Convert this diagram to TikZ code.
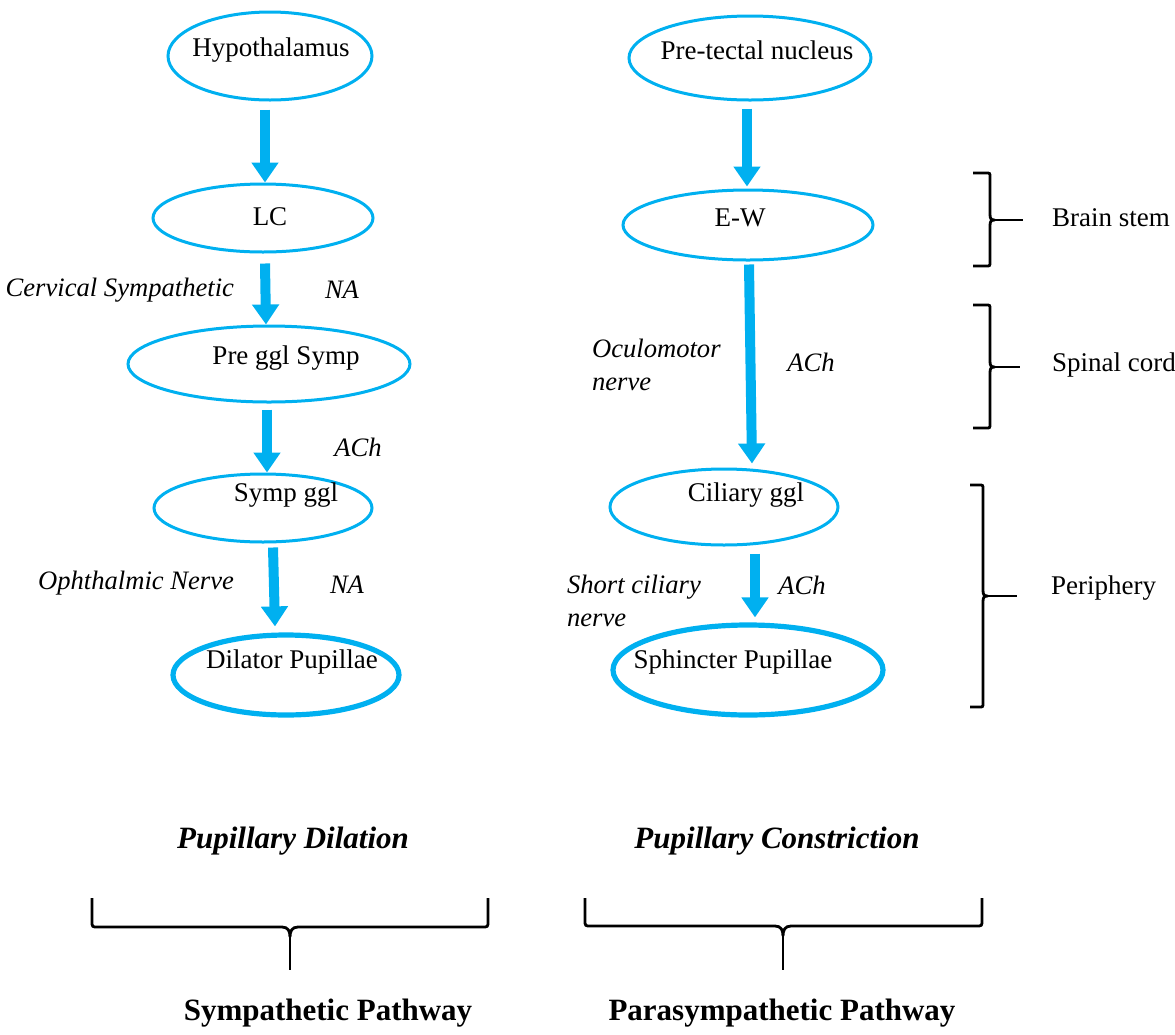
\documentclass[tikz,border=0pt]{standalone}
\usepackage{fontspec}
\setmainfont{Liberation Serif}
\usetikzlibrary{shapes.geometric,arrows.meta}
\definecolor{cy}{HTML}{00B0F0}
\begin{document}
\begin{tikzpicture}[x=0.5pt,y=-0.5pt,
  ell/.style={ellipse,draw=cy,line width=1.5pt,inner sep=0pt},
  ellthick/.style={ell,line width=2.6pt},
  arr/.style={draw=cy,line width=5pt,-{Triangle[width=13pt,length=10pt]}},
  rt/.style={font=\fontsize{13.5}{16}\selectfont},
  it/.style={font=\fontsize{13.3}{16.5}\selectfont\itshape,align=left},
  bt/.style={font=\fontsize{15.5}{18}\selectfont\bfseries},
  bit/.style={font=\fontsize{15.5}{18}\selectfont\bfseries\itshape},
  br/.style={draw=black,line width=1.4pt}]
\useasboundingbox (0,0) rectangle (1175,1035);

% ---- sympathetic column ----
\node[ell,minimum width=102pt,minimum height=44pt,
  label={[rt,xshift=0.5pt,yshift=3pt]center:Hypothalamus}] (hyp) at (270,56) {};
\node[ell,minimum width=110pt,minimum height=34pt,
  label={[rt,xshift=3.5pt,yshift=0.5pt]center:LC}] (lc) at (263,218) {};
\node[ell,minimum width=141pt,minimum height=38pt,
  label={[rt,xshift=8.5pt,yshift=3pt]center:Pre ggl Symp}] (pre) at (269,364) {};
\node[ell,minimum width=109pt,minimum height=34pt,
  label={[rt,xshift=11.5pt,yshift=6.5pt]center:Symp ggl}] (symp) at (263,508) {};
\node[ellthick,minimum width=113pt,minimum height=40pt,
  label={[rt,xshift=3pt,yshift=6.5pt]center:Dilator Pupillae}] (dil) at (286,675) {};

% ---- parasympathetic column ----
\node[ell,minimum width=121pt,minimum height=42pt,
  label={[rt,xshift=3.5pt,yshift=4pt]center:Pre-tectal nucleus}] (ptn) at (750,58) {};
\node[ell,minimum width=125pt,minimum height=35pt,
  label={[rt,xshift=-4pt,yshift=3.5pt]center:E-W}] (ew) at (748,225) {};
\node[ell,minimum width=114pt,minimum height=38pt,
  label={[rt,xshift=11pt,yshift=6pt]center:Ciliary ggl}] (cil) at (724,507) {};
\node[ellthick,minimum width=135pt,minimum height=45pt,
  label={[rt,xshift=-7.5pt,yshift=4pt]center:Sphincter Pupillae}] (sph) at (748,670) {};

% ---- arrows ----
\draw[arr] ([xshift=-2.5pt,yshift=-4pt]hyp.south) -- ([xshift=1pt]lc.north);
\draw[arr] ([xshift=1pt,yshift=-5pt]lc.south) -- ([xshift=-1.5pt]pre.north);
\draw[arr] ([xshift=-1pt,yshift=-3pt]pre.south) -- ([xshift=2pt]symp.north);
\draw[arr] ([xshift=5pt,yshift=-2pt]symp.south) -- ([xshift=-5.5pt,yshift=3pt]dil.north);
\draw[arr] ([xshift=-1.5pt,yshift=-3.5pt]ptn.south) -- ([xshift=-0.5pt,yshift=1pt]ew.north);
\draw[arr] ([xshift=0.5pt,yshift=-1.5pt]ew.south) -- ([xshift=14pt,yshift=2pt]cil.north);
\draw[arr] ([xshift=15.5pt,yshift=-3.5pt]cil.south) -- ([xshift=3.5pt,yshift=2.5pt]sph.north);

% ---- arrow labels ----
\node[it,anchor=east] (l1) at (241,290) {Cervical Sympathetic};
\node[it] (l2) at (342,290) {NA};
\node[it] (l3) at (358,447) {ACh};
\node[it,anchor=east] (l4) at (241,583) {Ophthalmic Nerve};
\node[it] (l5) at (347,585) {NA};
\node[it,anchor=west] (l6) at (585,365) {Oculomotor\\nerve};
\node[it] (l7) at (811,362) {ACh};
\node[it,anchor=west] (l8) at (560,601) {Short ciliary\\nerve};
\node[it] (l9) at (802,585) {ACh};

% ---- right brackets ----
\draw[br] (973,173) -- (986,173) .. controls (990,173) .. (990,177) -- (990,214)
  .. controls (990,219) and (991,220) .. (995,220)
  .. controls (991,220) and (990,221) .. (990,226) -- (990,262)
  .. controls (990,266) .. (986,266) -- (973,266);
\draw[br] (995,220) -- (1023,220);
\node[rt,anchor=west] (bs) at (1045,218) {Brain stem};

\draw[br] (973,305) -- (986,305) .. controls (990,305) .. (990,309) -- (990,361)
  .. controls (990,366) and (991,367) .. (995,367)
  .. controls (991,367) and (990,368) .. (990,373) -- (990,424)
  .. controls (990,428) .. (986,428) -- (973,428);
\draw[br] (995,367) -- (1020,367);
\node[rt,anchor=west] (sc) at (1045,365) {Spinal cord};

\draw[br] (970,485) -- (979,485) .. controls (983,485) .. (983,489) -- (983,590)
  .. controls (983,595) and (984,596) .. (988,596)
  .. controls (984,596) and (983,597) .. (983,602) -- (983,703)
  .. controls (983,707) .. (979,707) -- (970,707);
\draw[br] (988,596) -- (1017,596);
\node[rt,anchor=west] (pe) at (1044,588) {Periphery};

% ---- titles ----
\node[bit] (t1) at (293,841) {Pupillary Dilation};
\node[bit] (t2) at (777,841) {Pupillary Constriction};

% ---- bottom braces ----
\draw[br] (92,898) -- (92,921) .. controls (92,927) .. (98,927) -- (282,927)
  .. controls (288,927) and (290,931) .. (290,937)
  .. controls (290,931) and (292,927) .. (298,927) -- (482,927)
  .. controls (488,927) .. (488,921) -- (488,898);
\draw[br] (290,937) -- (290,970);
\node[bt] (t3) at (328,1013) {Sympathetic Pathway};

\draw[br] (585,898) -- (585,920) .. controls (585,926) .. (591,926) -- (775,926)
  .. controls (781,926) and (783,930) .. (783,936)
  .. controls (783,930) and (785,926) .. (791,926) -- (976,926)
  .. controls (982,926) .. (982,920) -- (982,898);
\draw[br] (783,936) -- (783,970);
\node[bt] (t4) at (782,1013) {Parasympathetic Pathway};
\end{tikzpicture}
\end{document}
